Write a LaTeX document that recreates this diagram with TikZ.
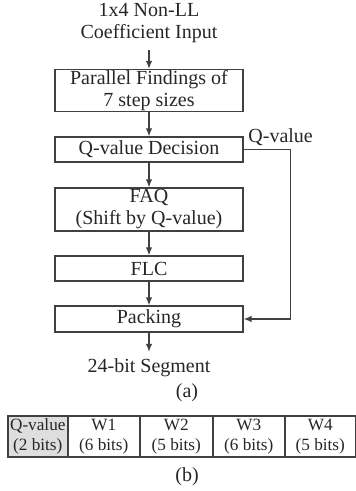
\documentclass[tikz,border=0pt]{standalone}
\usepackage{fontspec}
\setmainfont{Liberation Serif}
\usetikzlibrary{arrows.meta,positioning}
\tikzset{every node/.style={font=\fontsize{10}{11}\selectfont, text=black!85}}
\tikzset{blk/.style={draw=black!75, line width=0.6pt, minimum width=94pt, inner sep=0pt, align=center},
  cell/.style={draw=black!75, line width=0.8pt, minimum height=20.5pt, inner sep=0pt,
    align=center, anchor=west, font=\fontsize{8.6}{10}\selectfont}}

\begin{document}
\begin{tikzpicture}[x=0.5pt, y=-0.5pt, >={Latex[length=4pt,width=3.2pt]}]
  \useasboundingbox (0,0) rectangle (356,491);
  % flow of part (a)
  \node[align=center] (in) at (149,23) {1x4 Non-LL\\Coefficient Input};
  \node[blk, minimum height=21pt] (find) at (149,90.5) {Parallel Findings of\\7 step sizes};
  \node[blk, minimum height=12.5pt] (dec) at (149,149.5) {Q-value Decision};
  \node[blk, minimum height=21.5pt] (faq) at (149,209.5) {FAQ\\(Shift by Q-value)};
  \node[blk, minimum height=12.5pt] (flc) at (149,268.5) {FLC};
  \node[blk, minimum height=13pt] (pack) at (149,319) {Packing};
  \node (seg) at (149,368) {24-bit Segment};
  \node (capa) at (187,393) {(a)};

  \draw[->, draw=black!75, line width=0.6pt] (in) -- (find);
  \draw[->, draw=black!75, line width=0.6pt] (find) -- (dec);
  \draw[->, draw=black!75, line width=0.6pt] (dec) -- (faq);
  \draw[->, draw=black!75, line width=0.6pt] (faq) -- (flc);
  \draw[->, draw=black!75, line width=0.6pt] (flc) -- (pack);
  \draw[->, draw=black!75, line width=0.6pt] (pack) -- (seg);
  \draw[->, draw=black!75, line width=0.6pt] (dec.east) -- ++(47,0) |- (pack.east);
  \node[anchor=west, inner sep=0pt] (qlab) at (248,137) {Q-value};

  % segment format of part (b)
  \node[cell, fill=black!13, minimum width=30pt] (q) at (7,436.5) {Q-value\\(2 bits)};
  \foreach \n/\x/\w/\b in {1/67/36pt/6, 2/139/36.5pt/5, 3/212/36pt/6, 4/284/35.5pt/5}
    \node[cell, minimum width=\w] (w\n) at (\x,436.5) {W\n\\(\b{} bits)};
  \node (capb) at (187,477) {(b)};
\end{tikzpicture}
\end{document}
